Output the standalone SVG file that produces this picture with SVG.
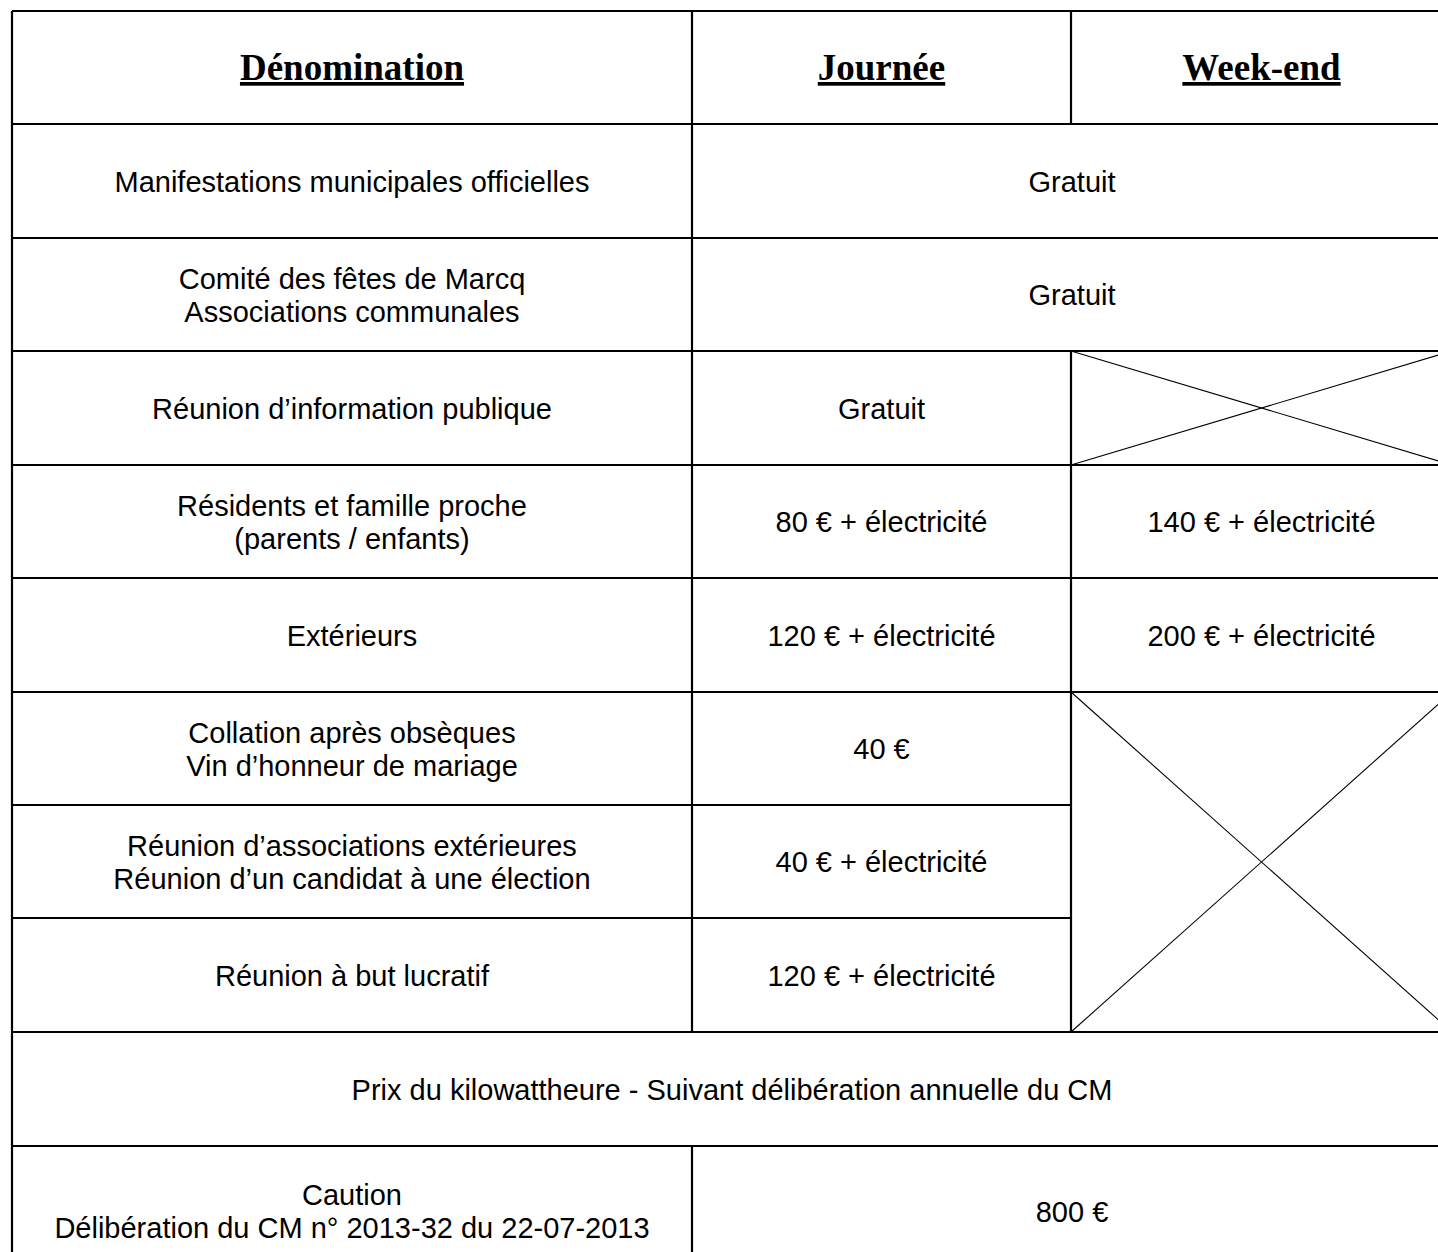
<svg xmlns="http://www.w3.org/2000/svg" width="1438" height="1252" viewBox="0 0 1438 1252">
<style>
.g{stroke:#000;stroke-width:2.2;fill:none}
.d{stroke:#000;stroke-width:1.1;fill:none}
.h{font-family:"Liberation Serif","Times New Roman",serif;font-weight:bold;font-size:37px;text-anchor:middle;text-decoration:underline;fill:#000}
.t{font-family:"Liberation Sans",Arial,sans-serif;font-size:29px;text-anchor:middle;fill:#000}
</style>
<rect width="1438" height="1252" fill="#fff"/>
<g id="grid">
<line class="g" x1="12" y1="11" x2="1452" y2="11"/>
<line class="g" x1="12" y1="124" x2="1452" y2="124"/>
<line class="g" x1="12" y1="238" x2="1452" y2="238"/>
<line class="g" x1="12" y1="351" x2="1452" y2="351"/>
<line class="g" x1="12" y1="465" x2="1452" y2="465"/>
<line class="g" x1="12" y1="578" x2="1452" y2="578"/>
<line class="g" x1="12" y1="692" x2="1452" y2="692"/>
<line class="g" x1="12" y1="805" x2="1071" y2="805"/>
<line class="g" x1="12" y1="918" x2="1071" y2="918"/>
<line class="g" x1="12" y1="1032" x2="1452" y2="1032"/>
<line class="g" x1="12" y1="1146" x2="1452" y2="1146"/>
<line class="g" x1="12" y1="1276" x2="1452" y2="1276"/>
<line class="g" x1="12" y1="11" x2="12" y2="1276"/>
<line class="g" x1="692" y1="11" x2="692" y2="1032"/>
<line class="g" x1="692" y1="1146" x2="692" y2="1276"/>
<line class="g" x1="1071" y1="11" x2="1071" y2="124"/>
<line class="g" x1="1071" y1="351" x2="1071" y2="1032"/>
<line class="g" x1="1452" y1="11" x2="1452" y2="1276"/>
<line class="d" x1="1071" y1="351" x2="1452" y2="465"/>
<line class="d" x1="1071" y1="465" x2="1452" y2="351"/>
<line class="d" x1="1071" y1="692" x2="1452" y2="1032"/>
<line class="d" x1="1071" y1="1032" x2="1452" y2="692"/>
</g>
<g id="header">
<text class="h" x="352" y="80">Dénomination</text>
<text class="h" x="881.5" y="80">Journée</text>
<text class="h" x="1261.5" y="80">Week-end</text>
</g>
<g id="row1">
<text class="t" x="352" y="191.5">Manifestations municipales officielles</text>
<text class="t" x="1072" y="191.5">Gratuit</text>
</g>
<g id="row2">
<text class="t" x="352" y="288.5">Comité des fêtes de Marcq</text>
<text class="t" x="352" y="321.5">Associations communales</text>
<text class="t" x="1072" y="305">Gratuit</text>
</g>
<g id="row3">
<text class="t" x="352" y="418.5">Réunion d’information publique</text>
<text class="t" x="881.5" y="418.5">Gratuit</text>
</g>
<g id="row4">
<text class="t" x="352" y="515.5">Résidents et famille proche</text>
<text class="t" x="352" y="548.5">(parents / enfants)</text>
<text class="t" x="881.5" y="532">80 € + électricité</text>
<text class="t" x="1261.5" y="532">140 € + électricité</text>
</g>
<g id="row5">
<text class="t" x="352" y="645.5">Extérieurs</text>
<text class="t" x="881.5" y="645.5">120 € + électricité</text>
<text class="t" x="1261.5" y="645.5">200 € + électricité</text>
</g>
<g id="row6">
<text class="t" x="352" y="742.5">Collation après obsèques</text>
<text class="t" x="352" y="775.5">Vin d’honneur de mariage</text>
<text class="t" x="881.5" y="759">40 €</text>
</g>
<g id="row7">
<text class="t" x="352" y="855.5">Réunion d’associations extérieures</text>
<text class="t" x="352" y="888.5">Réunion d’un candidat à une élection</text>
<text class="t" x="881.5" y="872">40 € + électricité</text>
</g>
<g id="row8">
<text class="t" x="352" y="985.5">Réunion à but lucratif</text>
<text class="t" x="881.5" y="985.5">120 € + électricité</text>
</g>
<g id="row9">
<text class="t" x="732" y="1099.5">Prix du kilowattheure - Suivant délibération annuelle du CM</text>
</g>
<g id="row10">
<text class="t" x="352" y="1205">Caution</text>
<text class="t" x="352" y="1238">Délibération du CM n° 2013-32 du 22-07-2013</text>
<text class="t" x="1072" y="1221.5">800 €</text>
</g>
</svg>
